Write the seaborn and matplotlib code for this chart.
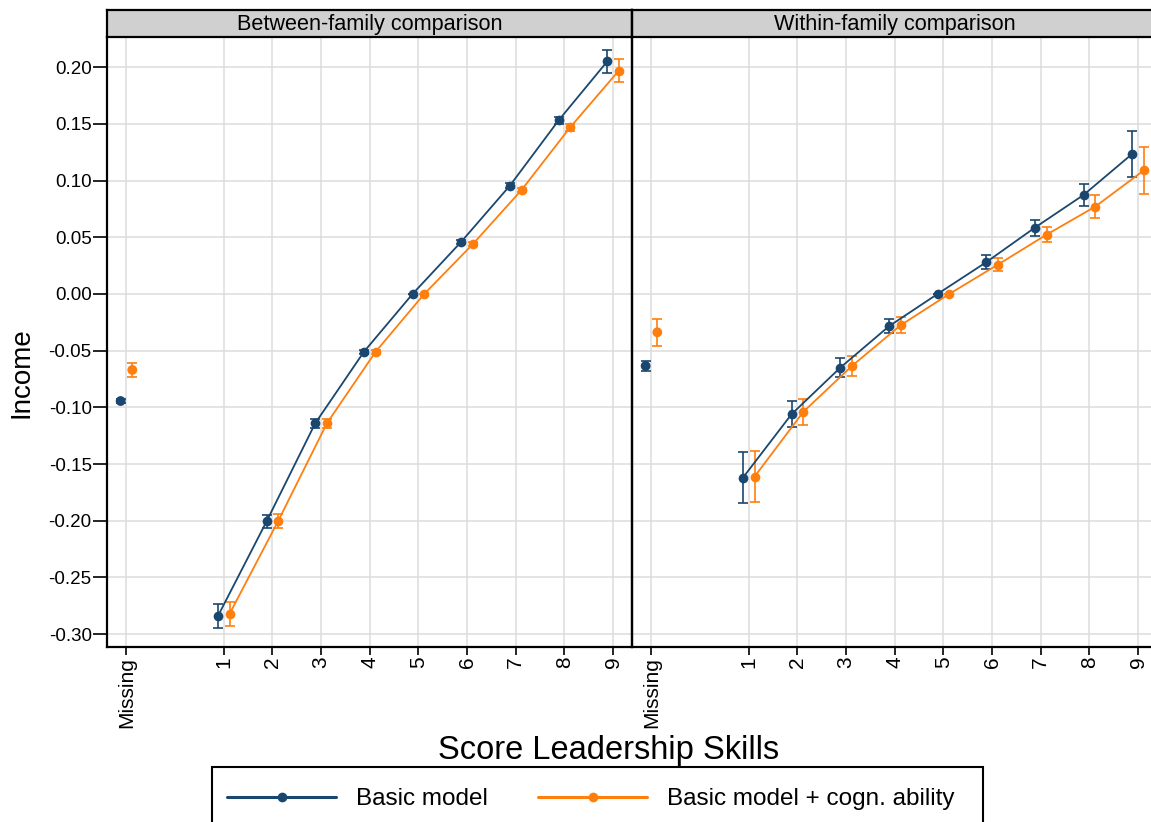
import matplotlib.pyplot as plt
from matplotlib.lines import Line2D
from matplotlib.patches import Rectangle
import seaborn as sns
import pandas as pd

# Data
scores = [1, 2, 3, 4, 5, 6, 7, 8, 9]
tick_labels = ['Missing', '1', '2', '3', '4', '5', '6', '7', '8', '9']
panels = ['Between-family comparison', 'Within-family comparison']
models = ['Basic model', 'Basic model + cogn. ability']

between_basic = [-0.284, -0.2005, -0.114, -0.051, 0.000, 0.046, 0.0955, 0.153, 0.205]
between_basic_err = [0.0106, 0.006, 0.004, 0.002, 0.0, 0.002, 0.002, 0.003, 0.0103]
between_cogn = [-0.282, -0.200, -0.114, -0.051, 0.000, 0.044, 0.0917, 0.147, 0.197]
between_cogn_err = [0.0106, 0.006, 0.004, 0.002, 0.0, 0.002, 0.002, 0.003, 0.0103]
between_missing = [-0.0944, -0.067]
between_missing_err = [0.002, 0.006]

within_basic = [-0.162, -0.106, -0.065, -0.0285, 0.000, 0.028, 0.0585, 0.0873, 0.1235]
within_basic_err = [0.0225, 0.0115, 0.0086, 0.006, 0.0, 0.006, 0.007, 0.0099, 0.020]
within_cogn = [-0.161, -0.104, -0.0635, -0.0276, 0.000, 0.0259, 0.0523, 0.077, 0.109]
within_cogn_err = [0.0225, 0.0115, 0.0085, 0.007, 0.0, 0.006, 0.0068, 0.010, 0.0207]
within_missing = [-0.0635, -0.0338]
within_missing_err = [0.0046, 0.012]

colors = {'Basic model': '#1a476f', 'Basic model + cogn. ability': '#ff7f0e'}
dodge = {'Basic model': -0.12, 'Basic model + cogn. ability': 0.12}


def build_frame(basic, basic_err, cogn, cogn_err, miss, miss_err):
    rows = []
    for s, v, e in zip(scores, basic, basic_err):
        rows.append(('Basic model', s, v, e))
    for s, v, e in zip(scores, cogn, cogn_err):
        rows.append(('Basic model + cogn. ability', s, v, e))
    rows.append(('Basic model', -1, miss[0], miss_err[0]))
    rows.append(('Basic model + cogn. ability', -1, miss[1], miss_err[1]))
    df = pd.DataFrame(rows, columns=['model', 'score', 'income', 'err'])
    df['xpos'] = df['score'] + df['model'].map(dodge)
    return df


frames = [
    build_frame(between_basic, between_basic_err, between_cogn, between_cogn_err,
                between_missing, between_missing_err),
    build_frame(within_basic, within_basic_err, within_cogn, within_cogn_err,
                within_missing, within_missing_err),
]

sns.set_theme(style="whitegrid")
plt.rcParams['font.family'] = ['Liberation Sans', 'DejaVu Sans']
plt.rcParams['text.color'] = 'black'
plt.rcParams['xtick.labelcolor'] = 'black'
plt.rcParams['ytick.labelcolor'] = 'black'

W, H = 1151, 822
fig = plt.figure(figsize=(W / 100, H / 100), dpi=100)

ax_left = 107 / W
ax_w = 525 / W
ax_bottom = 1 - 647 / H
ax_h = 610 / H
strip_h = 27 / H

for i, (title, df) in enumerate(zip(panels, frames)):
    ax = fig.add_axes([ax_left + i * ax_w, ax_bottom, ax_w, ax_h])
    line_df = df[df['score'] > 0]
    miss_df = df[df['score'] < 0]
    for m in models:
        sub = df[df['model'] == m]
        ax.errorbar(sub['xpos'], sub['income'], yerr=sub['err'], fmt='none',
                    ecolor=colors[m], elinewidth=1.2, capsize=3.3, capthick=1.2, zorder=3)
    sns.lineplot(data=line_df, x='xpos', y='income', hue='model', palette=colors,
                 marker='o', markersize=7, markeredgewidth=0, linewidth=1.3,
                 legend=False, ax=ax, zorder=4)
    sns.scatterplot(data=miss_df, x='xpos', y='income', hue='model', palette=colors,
                    s=50, linewidth=0, legend=False, ax=ax, zorder=4)

    ax.set_xlim(-1.40, 9.39)
    ax.set_ylim(-0.3113, 0.2266)
    ax.set_xticks([-1] + scores)
    ax.set_xticklabels(tick_labels, rotation=90, fontsize=15)
    ax.set_yticks([-0.30, -0.25, -0.20, -0.15, -0.10, -0.05, 0.00, 0.05, 0.10, 0.15, 0.20])
    if i == 0:
        ax.set_yticklabels([f'{v:.2f}' for v in ax.get_yticks()], fontsize=13.5)
        ax.tick_params(axis='y', length=10, width=1.2, color='black', left=True, pad=1)
    else:
        ax.tick_params(axis='y', left=False, labelleft=False)
    ax.tick_params(axis='x', length=5.5, width=1.2, color='black', bottom=True, pad=1.5)
    ax.set_xlabel('')
    ax.set_ylabel('')
    ax.grid(True, color='#dcdcdc', linewidth=1.1)
    ax.set_facecolor('white')
    for side in ['left', 'bottom']:
        ax.spines[side].set_visible(True)
        ax.spines[side].set_color('black')
        ax.spines[side].set_linewidth(1.6)
    ax.spines['top'].set_visible(False)
    ax.spines['right'].set_visible(False)

    strip = fig.add_axes([ax_left + i * ax_w, ax_bottom + ax_h, ax_w, strip_h])
    strip.set_facecolor('#d0d0d0')
    strip.set_xticks([])
    strip.set_yticks([])
    strip.grid(False)
    for side in strip.spines.values():
        side.set_visible(True)
        side.set_color('black')
        side.set_linewidth(1.6)
    strip.text(0.5, 0.45, title, ha='center', va='center', fontsize=15.6,
               transform=strip.transAxes)

# panel separator
fig.add_artist(Line2D([ax_left + ax_w] * 2, [ax_bottom, ax_bottom + ax_h + strip_h],
                      transform=fig.transFigure, color='black', linewidth=1.6))

fig.text(22 / W, 1 - 373 / H, 'Income', rotation=90, ha='center', va='center', fontsize=20)
fig.text(609 / W, 1 - 750 / H, 'Score Leadership Skills', ha='center', va='center', fontsize=23.5)

# legend (its box runs past the bottom edge, as in the reference)
handles = [Line2D([], [], color=colors[m], marker='o', markersize=7, linewidth=2.2,
                  markeredgewidth=0) for m in models]
fig.legend(handles, models, loc='upper center', bbox_to_anchor=(591 / W, 1 - 775 / H),
           ncol=2, fontsize=17.5, frameon=False, handlelength=4.5,
           handletextpad=0.82, columnspacing=2.05, borderpad=0.55, borderaxespad=0)
fig.add_artist(Rectangle((212 / W, -20 / H), 771 / W, (55 + 20) / H,
                         transform=fig.transFigure, facecolor='none',
                         edgecolor='black', linewidth=1.5))

fig.savefig('out.png', dpi=100)
